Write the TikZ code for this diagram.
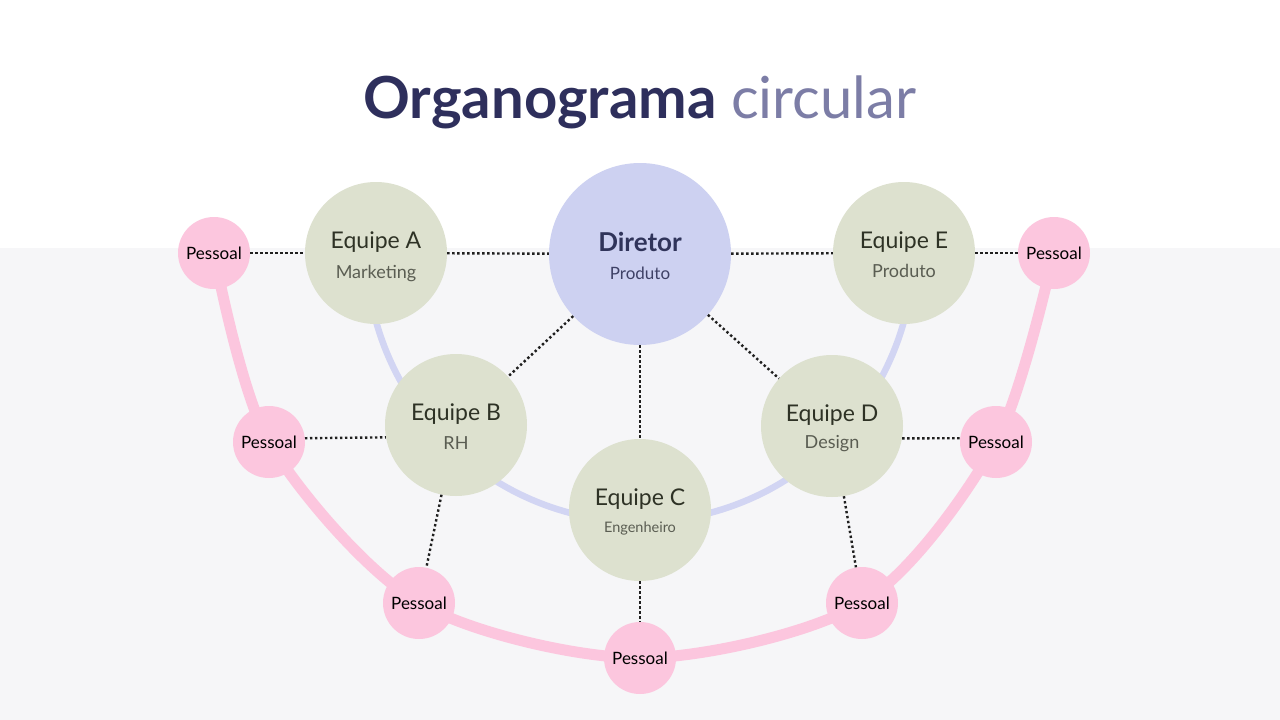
\documentclass[tikz,border=0pt]{standalone}
\usepackage{fontspec}
\setmainfont{Lato}
\usetikzlibrary{calc}
\definecolor{bgray}{HTML}{F6F6F8}
\definecolor{tdark}{HTML}{2E2F5C}
\definecolor{tlight}{HTML}{7C7DA6}
\definecolor{gfill}{HTML}{DDE1CF}
\definecolor{dfill}{HTML}{CDD1F1}
\definecolor{pfill}{HTML}{FCC6DE}
\definecolor{lavline}{HTML}{D2D5F3}
\definecolor{gtext}{HTML}{2E3225}
\definecolor{gsub}{HTML}{5A5D52}
\definecolor{dtext}{HTML}{30345A}
\definecolor{dsub}{HTML}{3E4166}
\begin{document}
\begin{tikzpicture}[x=1pt,y=-1pt,
  greenc/.style={circle, fill=gfill, minimum size=142pt, inner sep=0pt},
  dirc/.style={circle, fill=dfill, minimum size=182pt, inner sep=0pt},
  pess/.style={circle, fill=pfill, minimum size=72pt, inner sep=0pt, text=black, font=\fontsize{17}{20}\selectfont},
  eqname/.style={anchor=base, text=gtext, font=\fontsize{23}{27}\selectfont},
  eqsub/.style={anchor=base, text=gsub, font=\fontsize{18}{21}\selectfont},
  dotline/.style={line width=2.4pt, dash pattern=on 2.4pt off 2.6pt, black!88},
  pinkarc/.style={line width=11pt, pfill},
  lavarc/.style={line width=6.5pt, lavline}]
\useasboundingbox (0,0) rectangle (1280,720);
\fill[white] (0,0) rectangle (1280,248);
\fill[bgray] (0,248) rectangle (1280,720);

% title
\node[anchor=base, font=\fontsize{58}{68}\selectfont] (title) at (640,118)
  {\textcolor{tdark}{\bfseries Organograma} \textcolor{tlight}{circular}};

% arcs
\draw[pinkarc] plot[smooth, tension=0.5] coordinates
  {(214,253) (269,442) (419,603) (640,658) (862,603) (996,442) (1054,252)};
\draw[lavarc] plot[domain=0:180, samples=120] ({640+274*cos(\x)}, {248+274*sin(\x)});

% main nodes
\node[dirc] (D) at (640,254) {};
\node[anchor=base, text=dtext, font=\fontsize{26}{30}\selectfont\bfseries] (Dt) at ($(D)+(0,-3)$) {Diretor};
\node[anchor=base, text=dsub, font=\fontsize{17}{20}\selectfont] (Ds) at ($(D)+(0,25)$) {Produto};

\node[greenc] (A) at (376,253) {};
\node[eqname] (At) at ($(A)+(0,-5)$) {Equipe A};
\node[eqsub] (As) at ($(A)+(0,25)$) {Marketing};

\node[greenc] (E) at (904,253) {};
\node[eqname] (Et) at ($(E)+(0,-5)$) {Equipe E};
\node[eqsub] (Es) at ($(E)+(0,24)$) {Produto};

\node[greenc] (B) at (456,425) {};
\node[eqname] (Bt) at ($(B)+(0,-5)$) {Equipe B};
\node[eqsub] (Bs) at ($(B)+(0,24)$) {RH};

\node[greenc] (Dd) at (832,426) {};
\node[eqname] (Ddt) at ($(Dd)+(0,-5)$) {Equipe D};
\node[eqsub] (Dds) at ($(Dd)+(0,22)$) {Design};

\node[greenc] (C) at (640,510) {};
\node[eqname] (Ct) at ($(C)+(0,-5)$) {Equipe C};
\node[anchor=base, text=gsub, font=\fontsize{14.5}{17}\selectfont] (Cs) at ($(C)+(0,22)$) {Engenheiro};

% pessoal nodes
\node[pess] (P1) at (214,253) {Pessoal};
\node[pess] (P2) at (269,442) {Pessoal};
\node[pess] (P3) at (419,603) {Pessoal};
\node[pess] (P4) at (640,658) {Pessoal};
\node[pess] (P5) at (862,603) {Pessoal};
\node[pess] (P6) at (996,442) {Pessoal};
\node[pess] (P7) at (1054,253) {Pessoal};

% dotted connectors
\draw[dotline] (P1) -- (A);
\draw[dotline] (A) -- (D);
\draw[dotline] (D) -- (E);
\draw[dotline] (E) -- (P7);
\draw[dotline] (D) -- (B);
\draw[dotline] (D) -- (C);
\draw[dotline] (D) -- (Dd);
\draw[dotline] (P2.6) -- (B.190);
\draw[dotline] (B) -- (P3);
\draw[dotline] (C) -- (P4);
\draw[dotline] (Dd.350) -- (P6.174);
\draw[dotline] (Dd) -- (P5);
\end{tikzpicture}
\end{document}
